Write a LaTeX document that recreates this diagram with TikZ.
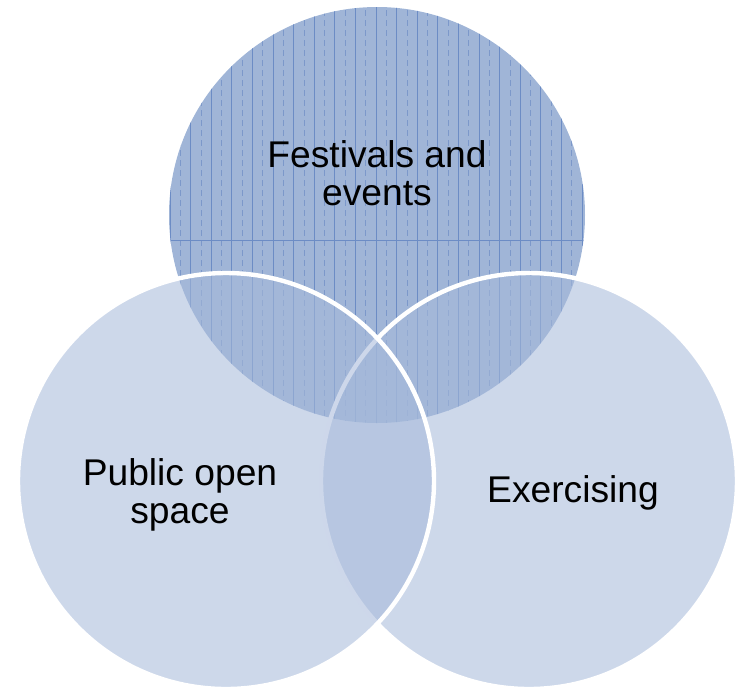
\documentclass[tikz,border=0pt]{standalone}
\usepackage{fontspec}
\setmainfont{Liberation Sans}
\usepackage{xcolor}
\usepackage{tikz}
\usetikzlibrary{positioning}

\definecolor{topblue}{HTML}{A0B5D7}
\definecolor{hatchblue}{HTML}{6C8CC5}
\definecolor{sideblue}{HTML}{A6B9DA}

\begin{document}
\begin{tikzpicture}[x=0.5pt, y=-0.5pt,
    venn top/.style={circle, minimum size=208pt, inner sep=0pt, fill=topblue},
    venn side/.style={circle, minimum size=208pt, inner sep=0pt, fill=sideblue,
        fill opacity=0.56, draw=white, line width=2.2pt},
    venn label/.style={font=\fontsize{18.6}{18.8}\selectfont, align=center}]

    \useasboundingbox (0,0) rectangle (740,687);

    % Top circle with its vertical hatching
    \node[venn top] (festivals_circle) at (377,215) {};
    \begin{scope}
        \clip (377,215) circle (208);
        \foreach \i in {0,...,41} {
            \pgfmathsetmacro{\xx}{170+10.3*\i}
            \ifodd\i
                \draw[hatchblue!70!topblue, line width=0.3pt, densely dashed] (\xx,0) -- (\xx,430);
            \else
                \draw[hatchblue, line width=0.35pt] (\xx,0) -- (\xx,430);
            \fi
        }
        \draw[hatchblue, line width=0.3pt] (160,240) -- (600,240);
    \end{scope}

    % Side circles, right one first
    \node[venn side] (exercising_circle) at (529,481) {};
    \node[venn side] (openspace_circle) at (226,481) {};

    % Labels
    \node[venn label] (festivals) at (377,173) {Festivals and\\events};
    \node[venn label] (openspace) at (180,495) {Public open\\space};
    \node[venn label] (exercising) at (573,493) {Exercising};

\end{tikzpicture}
\end{document}
